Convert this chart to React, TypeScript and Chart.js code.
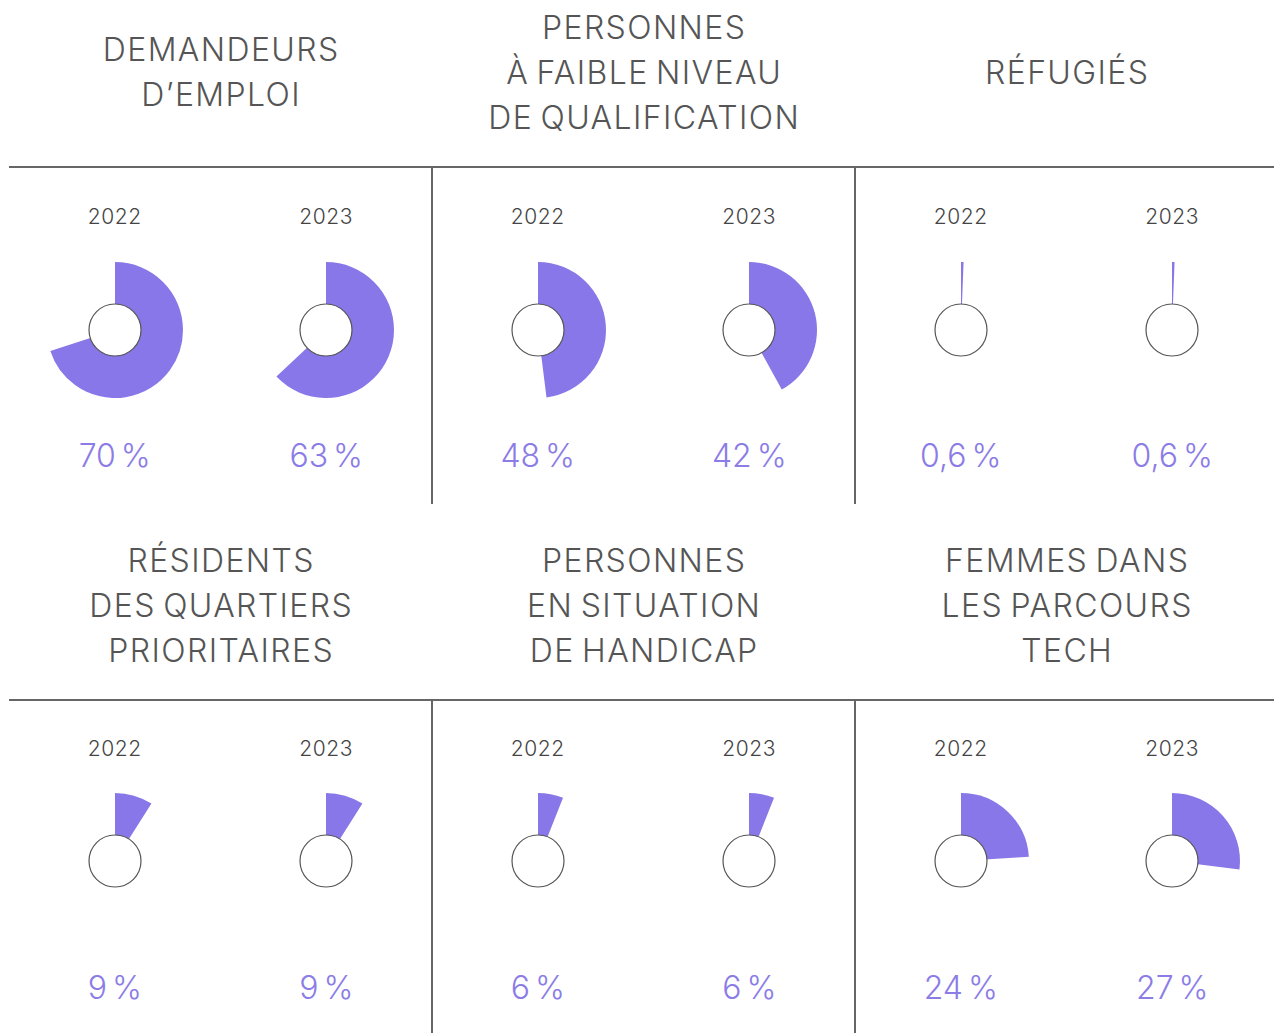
import React, { useEffect, useRef } from "react";
import { Chart, registerables } from "chart.js";

Chart.register(...registerables);

const categories: string[][] = [
  ["DEMANDEURS", "D\u2019EMPLOI"],
  ["PERSONNES", "\u00C0 FAIBLE NIVEAU", "DE QUALIFICATION"],
  ["R\u00C9FUGI\u00C9S"],
  ["R\u00C9SIDENTS", "DES QUARTIERS", "PRIORITAIRES"],
  ["PERSONNES", "EN SITUATION", "DE HANDICAP"],
  ["FEMMES DANS", "LES PARCOURS", "TECH"],
];
const years = ["2022", "2023"];
const values2022 = [70, 48, 0.6, 9, 6, 24];
const values2023 = [63, 42, 0.6, 9, 6, 27];

const PURPLE = "#8877E8";
const TEXT_PURPLE = "#8B7CE6";
const LINE = "#666";
const FONT = "Inter, 'Noto Sans', sans-serif";

const fmt = (v: number) => v.toString().replace(".", ",") + " %";

const innerCircle = {
  id: "innerCircle",
  afterDatasetsDraw(chart: any) {
    const arc = chart.getDatasetMeta(0).data[0];
    if (!arc) return;
    const ctx = chart.ctx;
    ctx.save();
    ctx.beginPath();
    ctx.arc(arc.x, arc.y, 26, 0, Math.PI * 2);
    ctx.fillStyle = "#fff";
    ctx.fill();
    ctx.lineWidth = 1.2;
    ctx.strokeStyle = "#555";
    ctx.stroke();
    ctx.restore();
  },
};

function Donut({ value, left, top }: { value: number; left: number; top: number }) {
  const ref = useRef<HTMLCanvasElement>(null);
  useEffect(() => {
    if (!ref.current) return;
    const chart = new Chart(ref.current, {
      type: "doughnut",
      data: {
        labels: ["value", "rest"],
        datasets: [
          {
            data: [value, 100 - value],
            backgroundColor: [PURPLE, "rgba(0,0,0,0)"],
            borderWidth: 0,
            radius: 68,
          } as any,
        ],
      },
      options: {
        responsive: false,
        animation: false,
        cutout: 0,
        rotation: 0,
        layout: { padding: 0 },
        plugins: { legend: { display: false }, tooltip: { enabled: false } },
      },
      plugins: [innerCircle],
    });
    return () => chart.destroy();
  }, [value]);
  return (
    <canvas
      ref={ref}
      width={200}
      height={200}
      style={{ position: "absolute", left: left - 100, top: top - 100, width: 200, height: 200 }}
    />
  );
}

export default function App() {
  const colLeft = [9, 432, 855];
  const colW = 423;
  const rows = [
    { titleCenter: 72, lineTop: 167, bottom: 504 },
    { titleCenter: 605, lineTop: 700, bottom: 1033 },
  ];
  const items: React.ReactNode[] = [];
  rows.forEach((r, ri) => {
    items.push(
      <div
        key={`h${ri}`}
        style={{ position: "absolute", left: 9, top: r.lineTop - 0.75, width: 1265, height: 1.5, background: LINE }}
      />
    );
    [432, 855].forEach((x, vi) =>
      items.push(
        <div
          key={`v${ri}-${vi}`}
          style={{ position: "absolute", left: x - 0.75, top: r.lineTop, width: 1.5, height: r.bottom - r.lineTop, background: LINE }}
        />
      )
    );
    for (let c = 0; c < 3; c++) {
      const idx = ri * 3 + c;
      items.push(
        <div
          key={`t${idx}`}
          style={{
            position: "absolute",
            left: colLeft[c],
            width: colW,
            top: r.titleCenter - 72.5,
            height: 145,
            display: "flex",
            flexDirection: "column",
            justifyContent: "center",
            alignItems: "center",
            fontFamily: FONT,
            fontWeight: 300,
            fontSize: 32,
            lineHeight: "45px",
            color: "#555",
            letterSpacing: "1.4px",
            wordSpacing: "-3px",
          }}
        >
          {categories[idx].map((l, li) => (
            <div key={li} style={{ whiteSpace: "nowrap", marginRight: "-1.4px" }}>{l}</div>
          ))}
        </div>
      );
      const vals = [values2022[idx], values2023[idx]];
      for (let y = 0; y < 2; y++) {
        const cx = colLeft[c] + colW * (y === 0 ? 0.25 : 0.75);
        const cy = r.lineTop + (ri === 0 ? 163 : 161);
        items.push(
          <div
            key={`y${idx}-${y}`}
            style={{
              position: "absolute",
              left: cx - 80,
              width: 160,
              textAlign: "center",
              top: r.lineTop + (ri === 0 ? 49.5 : 48.5) - 15,
              height: 30,
              lineHeight: "30px",
              fontFamily: FONT,
              fontWeight: 300,
              fontSize: 21,
              color: "#444",
              letterSpacing: "0.6px",
            }}
          >
            {years[y]}
          </div>
        );
        items.push(<Donut key={`d${idx}-${y}`} value={vals[y]} left={cx} top={cy} />);
        items.push(
          <div
            key={`p${idx}-${y}`}
            style={{
              position: "absolute",
              left: cx - 100,
              width: 200,
              textAlign: "center",
              top: r.lineTop + (ri === 0 ? 289 : 288) - 22,
              height: 44,
              lineHeight: "44px",
              fontFamily: FONT,
              fontWeight: 300,
              fontSize: 32,
              color: TEXT_PURPLE,
              whiteSpace: "nowrap",
              wordSpacing: "-4px",
            }}
          >
            {fmt(vals[y])}
          </div>
        );
      }
    }
  });
  return (
    <div style={{ position: "absolute", left: 0, top: 0, width: 1274, height: 1033, background: "#fff", overflow: "hidden" }}>
      {items}
    </div>
  );
}
